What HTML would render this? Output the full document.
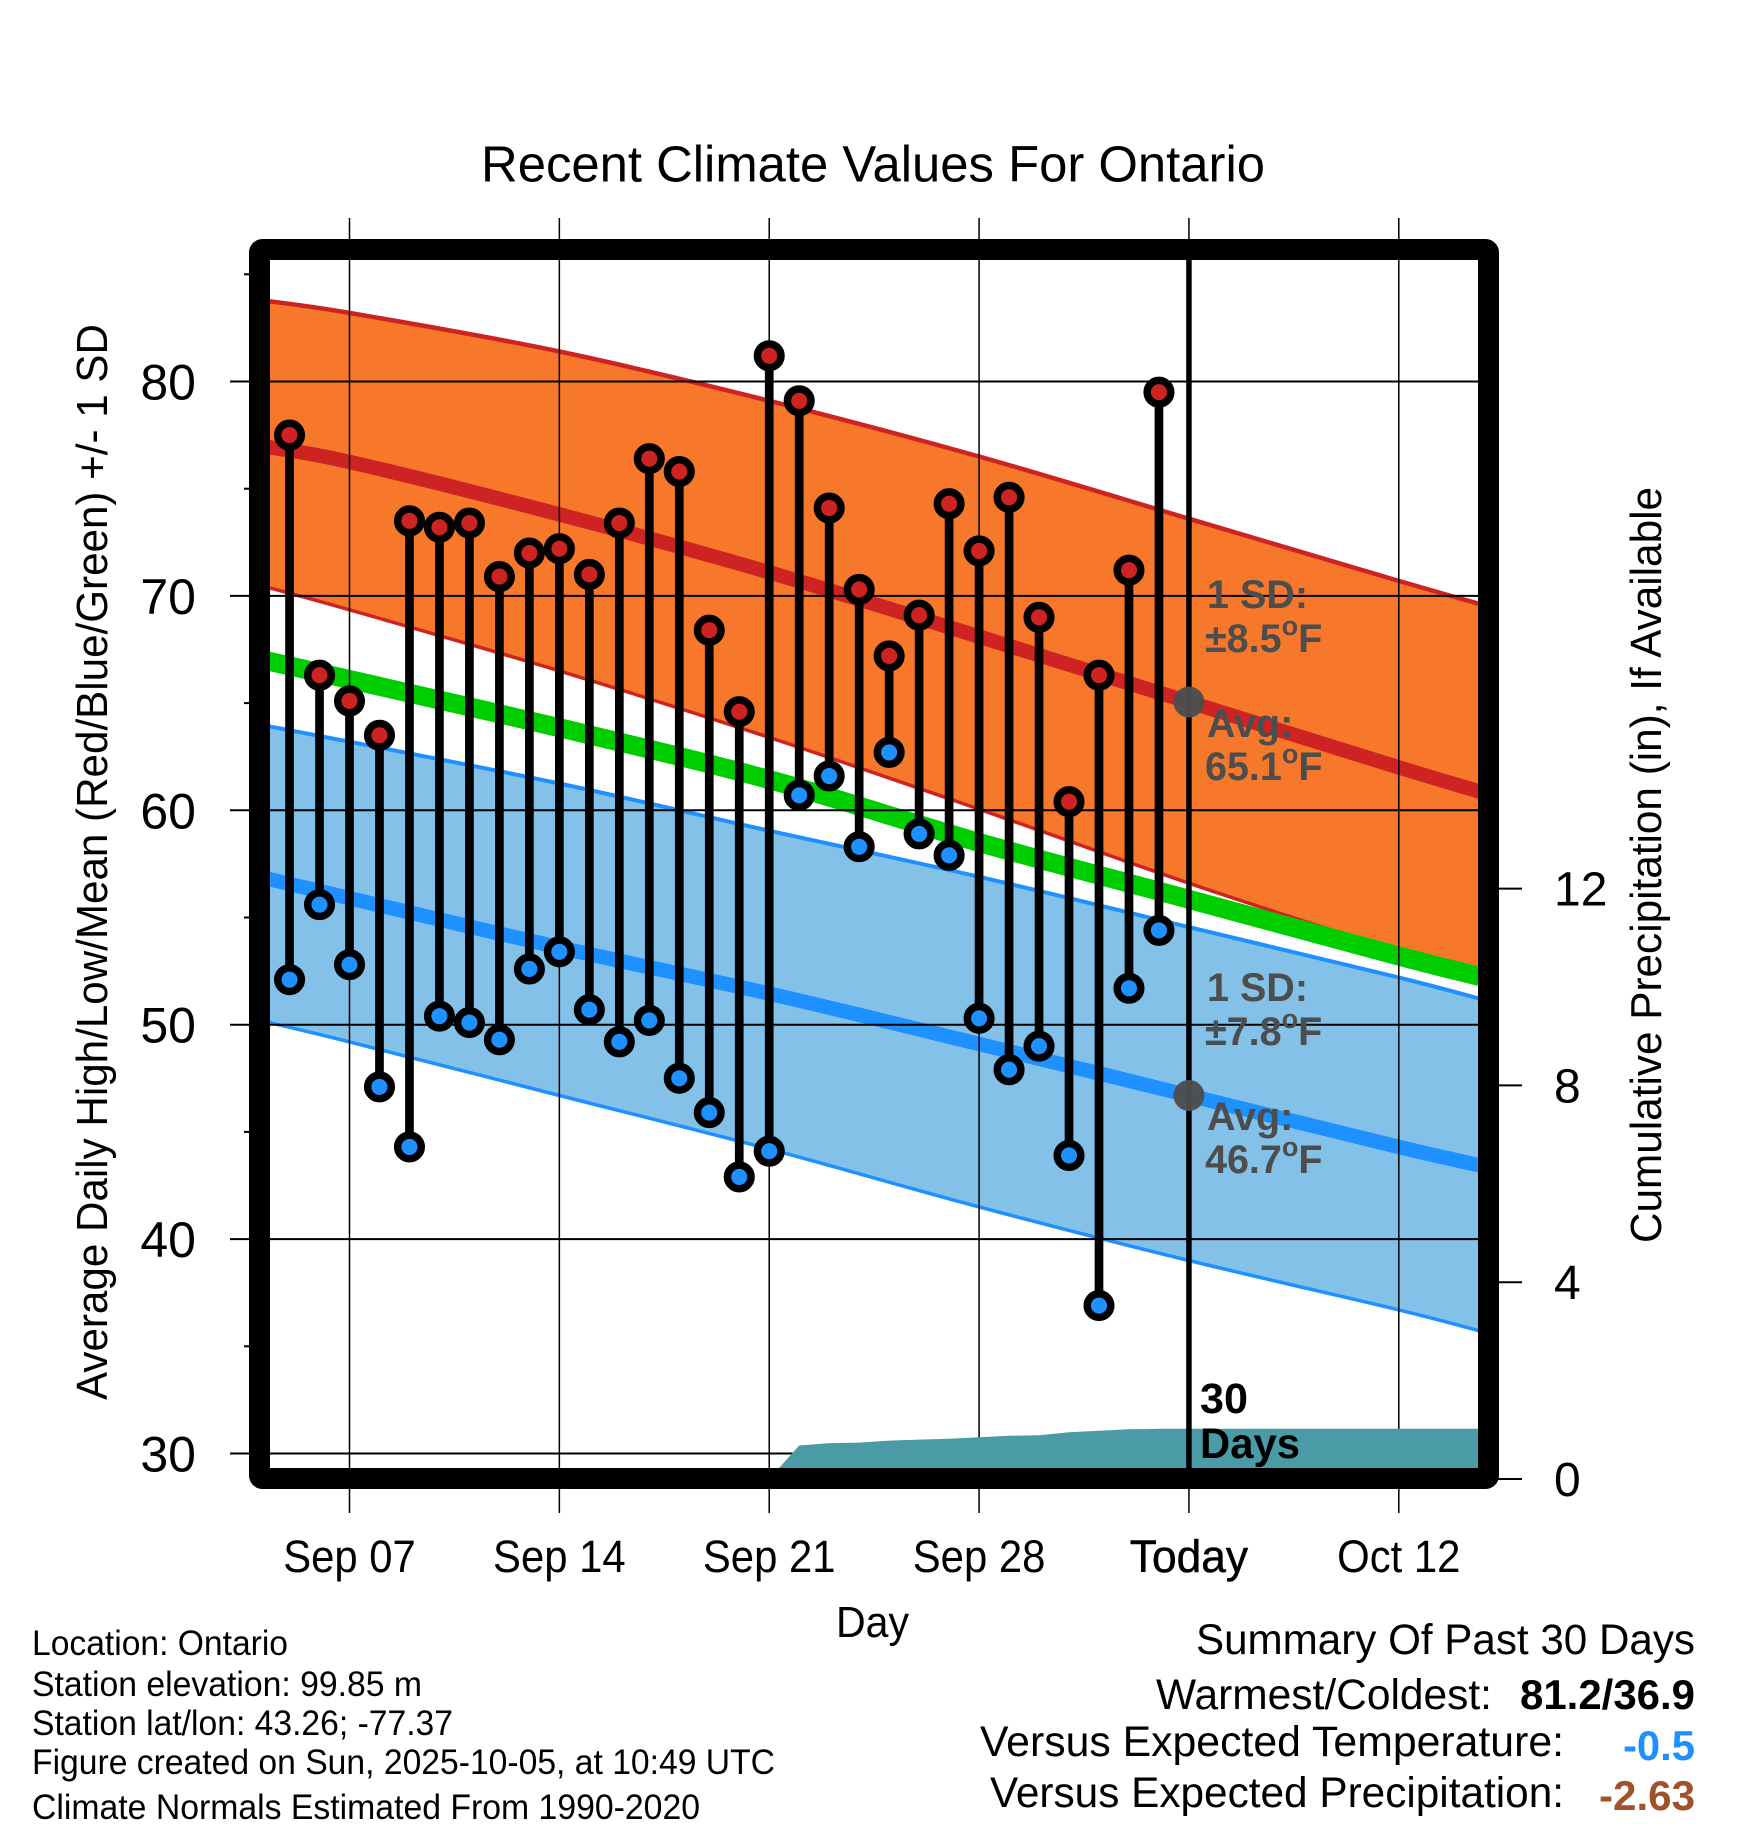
<!DOCTYPE html>
<html lang="en">
<head>
<meta charset="utf-8">
<title>Recent Climate Values For Ontario</title>
<style>
html,body{margin:0;padding:0;background:#fff;}
svg{display:block;}
text{font-family:"Liberation Sans",sans-serif;fill:#000;}
.note{font-size:35px;}
.sum{font-size:43px;}
.sumb{font-size:42px;font-weight:bold;}
.ann{font-size:39.5px;font-weight:bold;fill:#4d4d4d;}
.tick{font-size:45px;}
.num{font-size:50px;}
.num2{font-size:48px;}
</style>
</head>
<body>
<svg id="chart" xmlns="http://www.w3.org/2000/svg" width="1748" height="1828" viewBox="0 0 1748 1828">
  <defs>
    <clipPath id="plot-clip"><rect x="270" y="260" width="1208" height="1210"/></clipPath>
  </defs>
  <rect x="0" y="0" width="1748" height="1828" fill="#fff"/>
  <g id="bands" clip-path="url(#plot-clip)"></g>
  <g id="grid"></g>
  <g id="precip" clip-path="url(#plot-clip)"></g>
  <g id="annots">
    <text class="ann" x="1207" y="608">1 SD:</text>
    <text class="ann" x="1205" y="652">±8.5<tspan font-size="27" dy="-17">o</tspan><tspan dy="17">F</tspan></text>
    <text class="ann" x="1207" y="737">Avg:</text>
    <text class="ann" x="1205" y="780">65.1<tspan font-size="27" dy="-17">o</tspan><tspan dy="17">F</tspan></text>
    <text class="ann" x="1207" y="1001">1 SD:</text>
    <text class="ann" x="1205" y="1045">±7.8<tspan font-size="27" dy="-17">o</tspan><tspan dy="17">F</tspan></text>
    <text class="ann" x="1207" y="1130">Avg:</text>
    <text class="ann" x="1205" y="1173">46.7<tspan font-size="27" dy="-17">o</tspan><tspan dy="17">F</tspan></text>
  </g>
  <g id="today"></g>
  <g id="stems"></g>
  <rect x="259.5" y="249.5" width="1229" height="1229" rx="3" fill="none" stroke="#000" stroke-width="21" stroke-linejoin="round"/>
  <g id="axes"></g>

  <text x="481" y="181.5" font-size="51" textLength="784" lengthAdjust="spacingAndGlyphs">Recent Climate Values For Ontario</text>
  <text transform="translate(107,1400) rotate(-90)" font-size="44" textLength="1076" lengthAdjust="spacingAndGlyphs">Average Daily High/Low/Mean (Red/Blue/Green) +/- 1 SD</text>
  <text transform="translate(1661,1243) rotate(-90)" font-size="44" textLength="756" lengthAdjust="spacingAndGlyphs">Cumulative Precipitation (in), If Available</text>
  <text x="836" y="1637" font-size="44" textLength="73" lengthAdjust="spacingAndGlyphs">Day</text>

  <text class="ann" style="fill:#000;font-size:43px" x="1200" y="1413" textLength="48" lengthAdjust="spacingAndGlyphs">30</text>
  <text class="ann" style="fill:#000;font-size:43px" x="1200" y="1458" textLength="100" lengthAdjust="spacingAndGlyphs">Days</text>

  <g>
    <text class="note" x="32" y="1655" textLength="256" lengthAdjust="spacingAndGlyphs">Location: Ontario</text>
    <text class="note" x="32" y="1696" textLength="390" lengthAdjust="spacingAndGlyphs">Station elevation: 99.85 m</text>
    <text class="note" x="32" y="1735" textLength="421" lengthAdjust="spacingAndGlyphs">Station lat/lon: 43.26; -77.37</text>
    <text class="note" x="32" y="1774" textLength="743" lengthAdjust="spacingAndGlyphs">Figure created on Sun, 2025-10-05, at 10:49 UTC</text>
    <text class="note" x="32" y="1819" textLength="668" lengthAdjust="spacingAndGlyphs">Climate Normals Estimated From 1990-2020</text>
  </g>
  <g>
    <text class="sum" x="1196" y="1654" textLength="499" lengthAdjust="spacingAndGlyphs">Summary Of Past 30 Days</text>
    <text class="sum" x="1156" y="1709" textLength="336" lengthAdjust="spacingAndGlyphs">Warmest/Coldest:</text>
    <text class="sumb" x="1520" y="1709" textLength="175" lengthAdjust="spacingAndGlyphs">81.2/36.9</text>
    <text class="sum" x="980" y="1756" textLength="584" lengthAdjust="spacingAndGlyphs">Versus Expected Temperature:</text>
    <text class="sumb" style="fill:#1e90ff" x="1623" y="1760" textLength="72" lengthAdjust="spacingAndGlyphs">-0.5</text>
    <text class="sum" x="990" y="1807" textLength="574" lengthAdjust="spacingAndGlyphs">Versus Expected Precipitation:</text>
    <text class="sumb" style="fill:#a0522d" x="1599" y="1810" textLength="96" lengthAdjust="spacingAndGlyphs">-2.63</text>
  </g>
</svg>
<script>
// Daily observations: days counted from Sep 07
const obsDays = [-2,-1,0,1,2,3,4,5,6,7,8,9,10,11,12,13,14,15,16,17,18,19,20,21,22,23,24,25,26,27];
const highs = [77.5,66.3,65.1,63.5,73.5,73.2,73.4,70.9,72.0,72.2,71.0,73.4,76.4,75.8,68.4,64.6,81.2,79.1,74.1,70.3,67.2,69.1,74.3,72.1,74.6,69.0,60.4,66.3,71.2,79.5];
const lows = [52.1,55.6,52.8,47.1,44.3,50.4,50.1,49.3,52.6,53.4,50.7,49.2,50.2,47.5,45.9,42.9,44.1,60.7,61.6,58.3,62.7,58.9,57.9,50.3,47.9,49.0,43.9,36.9,51.7,54.4];
const precip = [0,0,0,0,0,0,0,0,0,0,0,0,0,0,0,0,0,0.68,0.73,0.74,0.78,0.80,0.82,0.85,0.88,0.89,0.95,0.98,1.01,1.02];

// Climate normals sampled on these days from Sep 07
const normalDays = [-3,0,7,14,21,28,35,38];
const highUpper = [83.8,83.2,81.4,79.1,76.5,73.6,70.7,69.5];
const highAvg = [77.0,76.25,73.8,71.1,68.1,65.05,62.0,60.75];
const highLower = [70.5,69.35,66.5,63.4,60.05,56.6,53.4,52.1];
const meanAvg = [67.05,66.1,63.85,61.43,58.5,55.85,53.2,52.15];
const lowUpper = [64.0,63.2,61.25,59.05,56.9,54.55,52.2,51.1];
const lowAvg = [56.9,55.9,53.6,51.45,49.1,46.7,44.3,43.35];
const lowLower = [50.2,49.2,46.7,44.2,41.5,39.0,36.7,35.6];

// Axis ticks
const xTickDays = [0,7,14,21,28,35];
const xTickLabels = ["Sep 07","Sep 14","Sep 21","Sep 28","Today","Oct 12"];
const xTickNames = ["sep-07","sep-14","sep-21","sep-28","today","oct-12"];
const yTicks = [30,40,50,60,70,80];
const yMinorTicks = [35,45,55,65,75,85];
const precipTicks = [0,4,8,12];
const todayDay = 28;

function xScale(d){return 349.5 + d * 29.98;}
function yScale(t){return 381.5 + (80 - t) * 21.44;}
function pScale(p){return 1479 - p * 49.2;}

const NS = "http://www.w3.org/2000/svg";
function mk(tag, attrs, parent){
  const el = document.createElementNS(NS, tag);
  for (const k in attrs) el.setAttribute(k, attrs[k]);
  parent.appendChild(el);
  return el;
}
function smoothSegs(pts){
  let s = "";
  for (let i = 0; i < pts.length - 1; i++){
    const p0 = pts[Math.max(0,i-1)], p1 = pts[i], p2 = pts[i+1], p3 = pts[Math.min(pts.length-1,i+2)];
    const c1x = p1[0] + (p2[0]-p0[0])/6, c1y = p1[1] + (p2[1]-p0[1])/6;
    const c2x = p2[0] - (p3[0]-p1[0])/6, c2y = p2[1] - (p3[1]-p1[1])/6;
    s += " C"+c1x.toFixed(1)+" "+c1y.toFixed(1)+" "+c2x.toFixed(1)+" "+c2y.toFixed(1)+" "+p2[0].toFixed(1)+" "+p2[1].toFixed(1);
  }
  return s;
}
function toPts(days, vals){
  return days.map((d,i)=>[xScale(d), yScale(vals[i])]);
}
function linePath(days, vals){
  const pts = toPts(days, vals);
  return "M"+pts[0][0].toFixed(1)+" "+pts[0][1].toFixed(1)+smoothSegs(pts);
}
function bandPath(days, upper, lower){
  const top = toPts(days, upper);
  const bot = toPts(days, lower).reverse();
  return "M"+top[0][0].toFixed(1)+" "+top[0][1].toFixed(1)+smoothSegs(top)
    +" L"+bot[0][0].toFixed(1)+" "+bot[0][1].toFixed(1)+smoothSegs(bot)+" Z";
}

const bands = document.getElementById("bands");
let el;
el = mk("path",{d:bandPath(normalDays,highUpper,highLower),fill:"#f7782a"},bands);


el = mk("path",{d:linePath(normalDays,highUpper),fill:"none",stroke:"#cd2322","stroke-width":4.5},bands);


el = mk("path",{d:linePath(normalDays,highLower),fill:"none",stroke:"#cd2322","stroke-width":3.5},bands);


el = mk("path",{d:linePath(normalDays,highAvg),fill:"none",stroke:"#cd2322","stroke-width":14.5},bands);


el = mk("path",{d:linePath(normalDays,meanAvg),fill:"none",stroke:"#00cd00","stroke-width":19},bands);


el = mk("path",{d:bandPath(normalDays,lowUpper,lowLower),fill:"#84c1e8"},bands);


el = mk("path",{d:linePath(normalDays,lowUpper),fill:"none",stroke:"#1e90ff","stroke-width":4},bands);


el = mk("path",{d:linePath(normalDays,lowLower),fill:"none",stroke:"#1e90ff","stroke-width":3.5},bands);


el = mk("path",{d:linePath(normalDays,lowAvg),fill:"none",stroke:"#1e90ff","stroke-width":14.5},bands);



const grid = document.getElementById("grid");
yTicks.forEach(t=>{
  const g = mk("line",{x1:230,x2:1478,y1:yScale(t),y2:yScale(t),stroke:"#000","stroke-width":2},grid);
  
  
});
xTickDays.forEach(d=>{
  const g = mk("line",{x1:xScale(d),x2:xScale(d),y1:218,y2:1513,stroke:"#000","stroke-width":1.5},grid);
  
  
});

const precipLayer = document.getElementById("precip");
const lastP = precip[precip.length-1];
const areaD = obsDays.map((d,i)=>(i?"L":"M")+xScale(d).toFixed(1)+" "+pScale(precip[i]).toFixed(1)).join(" ")
  + " L1490 "+pScale(lastP).toFixed(1)+" L1490 "+pScale(0)+" L"+xScale(obsDays[0])+" "+pScale(0)+" Z";
el = mk("path",{d:areaD,fill:"#4a9ba6"},precipLayer);



const today = document.getElementById("today");
el = mk("line",{x1:xScale(todayDay),x2:xScale(todayDay),y1:255,y2:1475,stroke:"#000","stroke-width":5.5},today);


el = mk("circle",{cx:xScale(todayDay),cy:yScale(highAvg[5]),r:15.5,fill:"#4d4d4d","fill-opacity":0.96},today);


el = mk("circle",{cx:xScale(todayDay),cy:yScale(lowAvg[5]),r:15.5,fill:"#4d4d4d","fill-opacity":0.96},today);



const stems = document.getElementById("stems");
obsDays.forEach((d,i)=>{
  const s = mk("line",{x1:xScale(d),x2:xScale(d),y1:yScale(highs[i]),y2:yScale(lows[i]),stroke:"#000","stroke-width":8.7},stems);
  
  
});
obsDays.forEach((d,i)=>{
  const h = mk("circle",{cx:xScale(d),cy:yScale(highs[i]),r:11.8,fill:"#cd2322",stroke:"#000","stroke-width":7.5},stems);
  
  
  const l = mk("circle",{cx:xScale(d),cy:yScale(lows[i]),r:11.8,fill:"#1e90ff",stroke:"#000","stroke-width":7.5},stems);
  
  
});

const axes = document.getElementById("axes");
yMinorTicks.forEach(t=>{
  const m = mk("line",{x1:244,x2:252,y1:yScale(t),y2:yScale(t),stroke:"#000","stroke-width":2},axes);
  
  
});
yTicks.forEach(t=>{
  const tx = mk("text",{x:196,y:yScale(t)+18,"text-anchor":"end",class:"num"},axes);
  tx.textContent = String(t);
  
  
});
precipTicks.forEach(p=>{
  const k = mk("line",{x1:1497,x2:1522,y1:pScale(p),y2:pScale(p),stroke:"#000","stroke-width":2},axes);
  
  
  const tx = mk("text",{x:1554,y:pScale(p)+17,class:"num2"},axes);
  tx.textContent = String(p);
  
  
});
xTickDays.forEach((d,i)=>{
  const tx = mk("text",{x:xScale(d),y:1572,"text-anchor":"middle",class:"tick",lengthAdjust:"spacingAndGlyphs"},axes);
  tx.textContent = xTickLabels[i];
  
  
  const isToday = d === todayDay;
  tx.setAttribute('textLength', (tx.getComputedTextLength() * (isToday ? 0.985 : 0.93)).toFixed(1));
  if (isToday){ tx.setAttribute('stroke', '#000'); tx.setAttribute('stroke-width', '0.5'); }
});
</script>
</body>
</html>
